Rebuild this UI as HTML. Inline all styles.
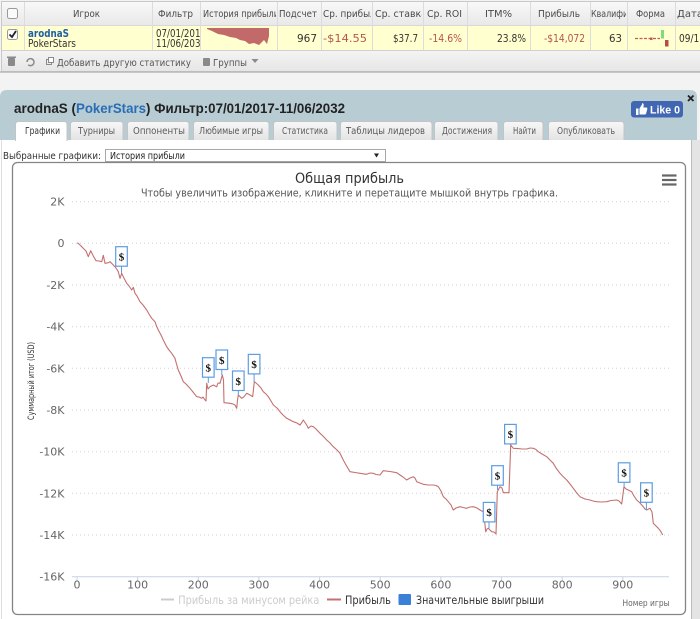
<!DOCTYPE html>
<html><head><meta charset="utf-8"><style>
html,body{margin:0;padding:0;background:#f3f3f3;width:700px;height:619px;overflow:hidden}
svg{display:block}
text{font-family:"DejaVu Sans","Liberation Sans",sans-serif}
</style></head><body>
<svg width="700" height="619" viewBox="0 0 700 619" xmlns="http://www.w3.org/2000/svg">
<defs>
<linearGradient id="hdr" x1="0" y1="0" x2="0" y2="1"><stop offset="0" stop-color="#f8f8f8"/><stop offset="1" stop-color="#e9e9e9"/></linearGradient>
<linearGradient id="tb" x1="0" y1="0" x2="0" y2="1"><stop offset="0" stop-color="#f4f4f4"/><stop offset="1" stop-color="#e6e6e6"/></linearGradient>
<linearGradient id="tab" x1="0" y1="0" x2="0" y2="1"><stop offset="0" stop-color="#f7f7f7"/><stop offset="1" stop-color="#e4e4e4"/></linearGradient>
<clipPath id="c1"><rect x="152" y="0" width="48" height="60"/></clipPath>
<clipPath id="c2"><rect x="201" y="0" width="75" height="60"/></clipPath>
<clipPath id="c3"><rect x="321" y="0" width="50" height="60"/></clipPath>
<clipPath id="c4"><rect x="372" y="0" width="50" height="60"/></clipPath>
<clipPath id="c5"><rect x="590" y="0" width="36" height="60"/></clipPath>
<clipPath id="c6"><rect x="675" y="0" width="25" height="60"/></clipPath>
</defs>

<!-- ===== top table ===== -->
<rect x="1.5" y="1.5" width="710" height="70" fill="#fff" stroke="#c8c8c8"/>
<rect x="2" y="2" width="698" height="23" fill="url(#hdr)"/>
<rect x="2" y="25" width="698" height="25" fill="#ffffcf"/>
<rect x="2" y="50" width="698" height="21" fill="url(#tb)"/>
<line x1="2" y1="25.5" x2="700" y2="25.5" stroke="#d8d8d8"/>
<line x1="2" y1="50.5" x2="700" y2="50.5" stroke="#d0d0d0"/>
<line x1="0" y1="72" x2="700" y2="72" stroke="#b8b8b8" stroke-width="1.5"/>
<g stroke="#dcdcdc">
<line x1="24.5" y1="2" x2="24.5" y2="50"/><line x1="152.5" y1="2" x2="152.5" y2="50"/>
<line x1="200.5" y1="2" x2="200.5" y2="50"/><line x1="277.5" y1="2" x2="277.5" y2="50"/>
<line x1="321.5" y1="2" x2="321.5" y2="50"/><line x1="372.5" y1="2" x2="372.5" y2="50"/>
<line x1="423.5" y1="2" x2="423.5" y2="50"/><line x1="467.5" y1="2" x2="467.5" y2="50"/>
<line x1="530.5" y1="2" x2="530.5" y2="50"/><line x1="590.5" y1="2" x2="590.5" y2="50"/>
<line x1="627.5" y1="2" x2="627.5" y2="50"/><line x1="675.5" y1="2" x2="675.5" y2="50"/>
</g>
<!-- checkboxes -->
<rect x="7.5" y="8.5" width="10" height="10" rx="2" fill="#fafafa" stroke="#9a9a9a"/>
<rect x="7.5" y="29.5" width="10" height="10" rx="2" fill="#fafafa" stroke="#9a9a9a"/>
<path d="M9.5 34.5 L12 37 L16 31" fill="none" stroke="#222" stroke-width="1.8"/>
<!-- header text -->
<g font-size="10" fill="#4a4a4a">
<text x="73" y="17" textLength="27" lengthAdjust="spacingAndGlyphs">Игрок</text>
<text x="158" y="17" textLength="35" lengthAdjust="spacingAndGlyphs">Фильтр</text>
<text x="203" y="17" textLength="76" lengthAdjust="spacingAndGlyphs" clip-path="url(#c2)">История прибыли</text>
<text x="279" y="17" textLength="38" lengthAdjust="spacingAndGlyphs">Подсчет</text>
<text x="323" y="17" textLength="58" lengthAdjust="spacingAndGlyphs" clip-path="url(#c3)">Ср. прибыль</text>
<text x="375" y="17" textLength="52" lengthAdjust="spacingAndGlyphs" clip-path="url(#c4)">Ср. ставка</text>
<text x="427" y="17" textLength="35" lengthAdjust="spacingAndGlyphs">Ср. ROI</text>
<text x="485" y="17" textLength="27" lengthAdjust="spacingAndGlyphs">ITM%</text>
<text x="538" y="17" textLength="42" lengthAdjust="spacingAndGlyphs">Прибыль</text>
<text x="591" y="17" textLength="62" lengthAdjust="spacingAndGlyphs" clip-path="url(#c5)">Квалификация</text>
<text x="636" y="17" textLength="29" lengthAdjust="spacingAndGlyphs">Форма</text>
<text x="677" y="17" textLength="26" lengthAdjust="spacingAndGlyphs" clip-path="url(#c6)">Дата</text>
</g>
<!-- data row -->
<g font-size="10.5">
<text x="28" y="37" font-weight="bold" fill="#1f5fa6" textLength="41" lengthAdjust="spacingAndGlyphs">arodnaS</text>
<text x="28" y="47" fill="#333" textLength="48" lengthAdjust="spacingAndGlyphs">PokerStars</text>
<g clip-path="url(#c1)" fill="#333">
<text x="156" y="37" textLength="50" lengthAdjust="spacingAndGlyphs">07/01/2017</text>
<text x="156" y="47" textLength="50" lengthAdjust="spacingAndGlyphs">11/06/2032</text>
</g>
<text x="317" y="42" fill="#333" text-anchor="end">967</text>
<text x="323" y="42" fill="#b65450" textLength="44" lengthAdjust="spacingAndGlyphs">-$14.55</text>
<text x="393" y="42" fill="#333" textLength="25" lengthAdjust="spacingAndGlyphs">$37.7</text>
<text x="429" y="42" fill="#b65450" textLength="33" lengthAdjust="spacingAndGlyphs">-14.6%</text>
<text x="497" y="42" fill="#333" textLength="29" lengthAdjust="spacingAndGlyphs">23.8%</text>
<text x="544" y="42" fill="#b65450" textLength="41" lengthAdjust="spacingAndGlyphs">-$14,072</text>
<text x="609" y="42" fill="#333" textLength="13" lengthAdjust="spacingAndGlyphs">63</text>
<text x="679" y="42" fill="#333" clip-path="url(#c6)" textLength="26" lengthAdjust="spacingAndGlyphs">09/11</text>
</g>
<!-- sparkline -->
<polygon points="207,28 269,28 269,36 267,44 264,40 259,45 254,43 249,44 245,41 240,40 236,38 230,37 224,35 218,34 212,31 207,29" fill="#c26a6a"/>
<!-- form -->
<line x1="635" y1="38.5" x2="660" y2="38.5" stroke="#c25a5a" stroke-width="1.2" stroke-dasharray="3,1.5"/>
<rect x="650" y="37.5" width="2.5" height="2.5" fill="#c25a5a"/>
<rect x="661" y="30" width="3" height="8.5" fill="#7ddc7d"/>
<rect x="665" y="40" width="3.5" height="6.5" fill="#b84a4a"/>
<!-- toolbar -->
<g fill="#8a8a8a">
<rect x="8" y="58" width="7" height="8" rx="1"/><rect x="7" y="56.5" width="9" height="1.5"/>
<path d="M27 62 a3.5 3.5 0 1 1 1.2 2.8" fill="none" stroke="#8a8a8a" stroke-width="1.5"/>
<rect x="46.5" y="59.5" width="5" height="5" fill="none" stroke="#8a8a8a"/><rect x="48.5" y="57.5" width="5" height="5" fill="#fff" stroke="#8a8a8a"/>
<rect x="203" y="58" width="7" height="8" rx="1"/>
<path d="M251.5 59 L258.5 59 L255 63 Z"/>
</g>
<g font-size="10" fill="#555">
<text x="57" y="66" textLength="134" lengthAdjust="spacingAndGlyphs">Добавить другую статистику</text>
<text x="213" y="66" textLength="34" lengthAdjust="spacingAndGlyphs">Группы</text>
</g>

<!-- ===== panel ===== -->
<path d="M0 140 L0 97 Q0 90 7 90 L690 90 Q697 90 697 97 L697 140 Z" fill="#b8ccd3"/>
<rect x="0" y="140" width="692" height="479" fill="#fff"/>
<rect x="692" y="140" width="8" height="479" fill="#e4e4e4"/>
<line x1="691.5" y1="140" x2="691.5" y2="619" stroke="#bdbdbd"/>
<line x1="1.5" y1="140" x2="1.5" y2="619" stroke="#dedede"/>
<!-- close x -->
<path d="M688 95.5 L693.5 101 M693.5 95.5 L688 101" stroke="#222" stroke-width="1.8"/>
<!-- Like -->
<rect x="631" y="101" width="52" height="16.5" rx="3" fill="#4267b2"/>
<path d="M636 108.5 h2.5 v6.5 h-2.5 Z M639.5 108.5 l2.5 -4 v-1.3 c1.5 0 2 1 1.6 2.8 l-0.3 1.5 h3 c0.9 0 1.2 0.8 1 1.5 l-1.2 4.6 c-0.2 0.6 -0.6 0.9 -1.2 0.9 h-5.4 Z" fill="#fff"/>
<text x="650" y="113.5" font-size="11" font-weight="bold" fill="#fff" textLength="30" lengthAdjust="spacingAndGlyphs" style="font-family:'Liberation Sans',sans-serif">Like 0</text>
<!-- title -->
<g font-size="14" font-weight="bold" style="font-family:'Liberation Sans',sans-serif">
<text x="14" y="113" fill="#222" textLength="62" lengthAdjust="spacingAndGlyphs" style="font-family:'Liberation Sans',sans-serif">arodnaS (</text>
<text x="76" y="113" fill="#2a6db5" textLength="70" lengthAdjust="spacingAndGlyphs" style="font-family:'Liberation Sans',sans-serif">PokerStars</text>
<text x="146" y="113" fill="#222" textLength="199" lengthAdjust="spacingAndGlyphs" style="font-family:'Liberation Sans',sans-serif">) Фильтр:07/01/2017-11/06/2032</text>
</g>
<!-- tabs -->
<g stroke="#c4c4c4" fill="url(#tab)">
<path d="M70.5 140 V124.5 q0 -3 3 -3 H120 q3 0 3 3 V140"/>
<path d="M127.5 140 V124.5 q0 -3 3 -3 H186 q3 0 3 3 V140"/>
<path d="M193.5 140 V124.5 q0 -3 3 -3 H266 q3 0 3 3 V140"/>
<path d="M273.5 140 V124.5 q0 -3 3 -3 H334 q3 0 3 3 V140"/>
<path d="M340.5 140 V124.5 q0 -3 3 -3 H429 q3 0 3 3 V140"/>
<path d="M434.5 140 V124.5 q0 -3 3 -3 H495 q3 0 3 3 V140"/>
<path d="M503.5 140 V124.5 q0 -3 3 -3 H540 q3 0 3 3 V140"/>
<path d="M548.5 140 V124.5 q0 -3 3 -3 H621 q3 0 3 3 V140"/>
</g>
<path d="M15.5 141 V124.5 q0 -3 3 -3 H64 q3 0 3 3 V141" fill="#fff" stroke="#c4c4c4"/>
<g font-size="9.5" fill="#5a5a5a">
<text x="25" y="134" fill="#333" textLength="35" lengthAdjust="spacingAndGlyphs">Графики</text>
<text x="78" y="134" textLength="37" lengthAdjust="spacingAndGlyphs">Турниры</text>
<text x="133" y="134" textLength="52" lengthAdjust="spacingAndGlyphs">Оппоненты</text>
<text x="199" y="134" textLength="64" lengthAdjust="spacingAndGlyphs">Любимые игры</text>
<text x="282" y="134" textLength="46" lengthAdjust="spacingAndGlyphs">Статистика</text>
<text x="346" y="134" textLength="79" lengthAdjust="spacingAndGlyphs">Таблицы лидеров</text>
<text x="442" y="134" textLength="50" lengthAdjust="spacingAndGlyphs">Достижения</text>
<text x="513" y="134" textLength="23" lengthAdjust="spacingAndGlyphs">Найти</text>
<text x="557" y="134" textLength="58" lengthAdjust="spacingAndGlyphs">Опубликовать</text>
</g>
<!-- select -->
<text x="3" y="159" font-size="9.5" fill="#333" textLength="98" lengthAdjust="spacingAndGlyphs">Выбранные графики:</text>
<rect x="105.5" y="149.5" width="280" height="12" fill="#fff" stroke="#a8a8a8"/>
<text x="110" y="159" font-size="9.5" fill="#222" textLength="75" lengthAdjust="spacingAndGlyphs">История прибыли</text>
<path d="M374 153.5 h5 l-2.5 4 Z" fill="#222"/>

<!-- ===== chart box ===== -->
<rect x="12.5" y="162.5" width="673" height="452" rx="5" fill="#fff" stroke="#858585" stroke-width="1.3"/>
<text x="349.5" y="183" font-size="14.5" fill="#333" text-anchor="middle" textLength="109" lengthAdjust="spacingAndGlyphs">Общая прибыль</text>
<text x="349.5" y="196.5" font-size="10.5" fill="#555" text-anchor="middle" textLength="417" lengthAdjust="spacingAndGlyphs">Чтобы увеличить изображение, кликните и перетащите мышкой внутрь графика.</text>
<g stroke="#666" stroke-width="2.2"><line x1="662" y1="175.5" x2="676.5" y2="175.5"/><line x1="662" y1="180" x2="676.5" y2="180"/><line x1="662" y1="184.5" x2="676.5" y2="184.5"/></g>

<!-- grid -->
<g stroke="#d2d2d2" stroke-width="1" stroke-dasharray="1,3">
<line x1="72" y1="201.7" x2="669" y2="201.7"/>
<line x1="72" y1="243.3" x2="669" y2="243.3"/>
<line x1="72" y1="285" x2="669" y2="285"/>
<line x1="72" y1="326.7" x2="669" y2="326.7"/>
<line x1="72" y1="368.3" x2="669" y2="368.3"/>
<line x1="72" y1="410" x2="669" y2="410"/>
<line x1="72" y1="451.7" x2="669" y2="451.7"/>
<line x1="72" y1="493.3" x2="669" y2="493.3"/>
<line x1="72" y1="535" x2="669" y2="535"/>
</g>
<line x1="72" y1="576.7" x2="669" y2="576.7" stroke="#c8d2e4" stroke-width="1"/>
<g stroke="#c8d2e4">
<line x1="77" y1="577" x2="77" y2="581"/><line x1="137.6" y1="577" x2="137.6" y2="581"/>
<line x1="198.3" y1="577" x2="198.3" y2="581"/><line x1="258.9" y1="577" x2="258.9" y2="581"/>
<line x1="319.6" y1="577" x2="319.6" y2="581"/><line x1="380.2" y1="577" x2="380.2" y2="581"/>
<line x1="440.9" y1="577" x2="440.9" y2="581"/><line x1="501.5" y1="577" x2="501.5" y2="581"/>
<line x1="562.2" y1="577" x2="562.2" y2="581"/><line x1="622.8" y1="577" x2="622.8" y2="581"/>
</g>
<g font-size="11" fill="#666" text-anchor="end">
<text x="64.5" y="205.7">2K</text>
<text x="64.5" y="247">0</text>
<text x="64.5" y="289">-2K</text>
<text x="64.5" y="330.7">-4K</text>
<text x="64.5" y="372.3">-6K</text>
<text x="64.5" y="414">-8K</text>
<text x="64.5" y="455.7">-10K</text>
<text x="64.5" y="497.3">-12K</text>
<text x="64.5" y="539">-14K</text>
<text x="64.5" y="580.7">-16K</text>
</g>
<g font-size="11" fill="#666" text-anchor="middle">
<text x="77" y="588.5">0</text><text x="137.6" y="588.5">100</text><text x="198.3" y="588.5">200</text>
<text x="258.9" y="588.5">300</text><text x="319.6" y="588.5">400</text><text x="380.2" y="588.5">500</text>
<text x="440.9" y="588.5">600</text><text x="501.5" y="588.5">700</text><text x="562.2" y="588.5">800</text>
<text x="622.8" y="588.5">900</text>
</g>
<text transform="translate(34,381) rotate(-90)" font-size="8.5" fill="#333" text-anchor="middle" textLength="78" lengthAdjust="spacingAndGlyphs">Суммарный итог (USD)</text>

<!-- series -->
<polyline fill="none" stroke="#c47070" stroke-width="1.1" stroke-linejoin="round" points="77.3,242.7 80,245 83,248 86,251 88.3,256.7 90.7,250.7 93.3,256 96,260.7 99,261 101.7,261.7 103.3,255.3 105,263.3 108.3,262.7 110,261.7 113.3,265 116,268 118.3,271.7 120,278.3 121.7,273.3 123.3,276.7 126.7,283.3 129,286 131.7,290 133.3,287.3 135,293.3 137,296 140,301.7 143,305 146.7,310 149,314 151.7,318.3 155,321.7 156.5,326 158.3,330 161,335 163.3,340 166.7,346.7 169,350 171.7,353.3 175,358.3 176.5,364 178.3,370 181,376 183.3,381.7 186,384 190,388.3 193,392 196.7,396.7 199,397 201.7,398.3 203,397 205,400 206,401 206.7,383.3 208,389 210,386.7 213.3,385 216.7,386.7 218,383 220,383.3 222.3,375 223.5,380 224,402.7 230,403.3 233,404 235,405 236.7,408.3 237.5,400 238.3,395 241.7,398.3 244,396.7 246.7,393.3 250,395 252.7,396.7 254.3,381.7 256,383 258.3,385 261,388 263.3,391.7 266,394 268.3,396.7 271,401 273.3,405 277,408 280,411.7 283,415 286.7,418.3 290,420 293.3,421.7 297,423 300,425 301.5,423 303.3,420 306.7,425 308.3,428.3 311,426 313.3,426.7 316,429 320,433.3 323,436 326.7,440 330,443 333.3,446.7 337,450 340,453.3 343.3,460 346,465 350,471.7 355,472.5 360,473.3 366.7,474.3 370,473 373.3,473.3 376,474.5 380,475 383.3,470.7 390,471.5 396.7,472.7 400,475 403,477 406.7,480 410,478 413.3,476.7 415,478 416.7,481.7 420,483 423.3,484.3 428,485 433.3,485 436,485.5 438.3,486.7 441,491 443.3,496.7 446,499 448.3,501.7 451,505 453.3,510 456,508 460,506.7 463,507.5 466.7,508.3 470,507 473.3,506.7 477,508 480,510 483.3,511.7 484.5,520 485.7,531.7 487,529 488.3,528.3 490,530 491.7,531.7 494,532 496,534 497.3,491.7 500,486.7 502,488 503.3,492.7 506,492.7 509,492.7 510.7,445 513.3,448.3 518,448.6 522,449 526.7,449 530,448 533.3,448.3 536,449.5 538.3,451.7 542,454 546.7,456.7 550,460 553.3,463.3 556,468 560,473.3 563,476.5 566.7,480 570,484 573.3,488.3 576,492 580,496.7 585,499 590,500 593,501 596.7,501.7 601,502 606.7,501.7 611,500.5 616.7,500 619,501 621.7,504 624,486.7 626,489 628.3,490 631.7,491.7 634,496 636.7,500 640,503 643.3,506.7 645,509 646.7,510 650,508.3 652,512 653.3,523.3 656,526 658.3,528.3 660.5,531 662.7,535"/>

<!-- flags -->
<g stroke="#5c9ce2" stroke-width="1">
<line x1="121.5" y1="266" x2="121.5" y2="273"/>
<line x1="208.3" y1="377" x2="208.3" y2="383"/>
<line x1="221.8" y1="369.5" x2="221.8" y2="375"/>
<line x1="238.3" y1="390.5" x2="238.3" y2="395"/>
<line x1="254.1" y1="374" x2="254.1" y2="381.7"/>
<line x1="489" y1="522" x2="489" y2="528.3"/>
<line x1="497.5" y1="485" x2="497.5" y2="490"/>
<line x1="510.4" y1="444" x2="510.4" y2="445"/>
<line x1="624.1" y1="482.5" x2="624.1" y2="486.7"/>
<line x1="646.4" y1="502.5" x2="646.4" y2="510"/>
</g>
<g fill="#fff" stroke="#5c9ce2" stroke-width="1.2">
<rect x="115.7" y="246.7" width="11.6" height="19.5"/>
<rect x="202.5" y="357.7" width="11.6" height="19.5"/>
<rect x="216" y="350" width="11.6" height="19.5"/>
<rect x="232.5" y="371" width="11.6" height="19.5"/>
<rect x="248.3" y="354.4" width="11.6" height="19.5"/>
<rect x="483.3" y="502.4" width="11.6" height="19.5"/>
<rect x="491.7" y="465.7" width="11.6" height="19.5"/>
<rect x="504.6" y="424.4" width="11.6" height="19.5"/>
<rect x="618.3" y="462.8" width="11.6" height="19.5"/>
<rect x="640.6" y="482.8" width="11.6" height="19.5"/>
</g>
<g font-size="11" font-weight="bold" fill="#111" text-anchor="middle" style="font-family:'Liberation Serif',serif">
<text x="121.5" y="260.5" style="font-family:'Liberation Serif',serif">$</text>
<text x="208.3" y="371.5" style="font-family:'Liberation Serif',serif">$</text>
<text x="221.8" y="363.8" style="font-family:'Liberation Serif',serif">$</text>
<text x="238.3" y="384.8" style="font-family:'Liberation Serif',serif">$</text>
<text x="254.1" y="368.2" style="font-family:'Liberation Serif',serif">$</text>
<text x="489.1" y="516.2" style="font-family:'Liberation Serif',serif">$</text>
<text x="497.5" y="479.5" style="font-family:'Liberation Serif',serif">$</text>
<text x="510.4" y="438.2" style="font-family:'Liberation Serif',serif">$</text>
<text x="624.1" y="476.6" style="font-family:'Liberation Serif',serif">$</text>
<text x="646.4" y="496.6" style="font-family:'Liberation Serif',serif">$</text>
</g>

<!-- legend -->
<line x1="161" y1="599.5" x2="174" y2="599.5" stroke="#cccccc" stroke-width="2"/>
<text x="178.3" y="604" font-size="11.5" fill="#cccccc" textLength="141" lengthAdjust="spacingAndGlyphs">Прибыль за минусом рейка</text>
<line x1="327" y1="599.5" x2="341" y2="599.5" stroke="#c47070" stroke-width="2"/>
<text x="345" y="604" font-size="11.5" fill="#333" textLength="46" lengthAdjust="spacingAndGlyphs">Прибыль</text>
<rect x="398.5" y="594" width="12.5" height="11" rx="1" fill="#3a80d6"/>
<text x="416" y="604" font-size="11.5" fill="#333" textLength="128" lengthAdjust="spacingAndGlyphs">Значительные выигрыши</text>
<text x="622.5" y="606" font-size="9" fill="#666" textLength="47" lengthAdjust="spacingAndGlyphs">Номер игры</text>
</svg>
</body></html>
